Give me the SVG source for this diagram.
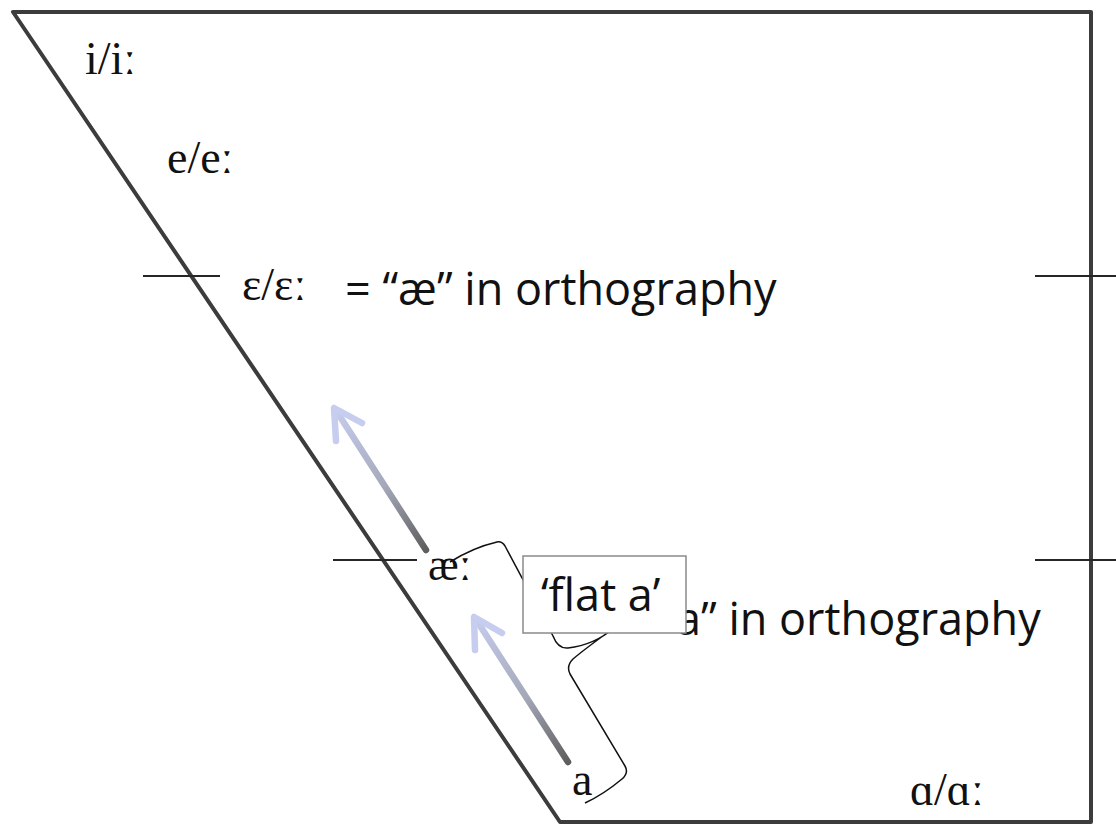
<svg xmlns="http://www.w3.org/2000/svg" width="1116" height="825" viewBox="0 0 1116 825">
<style>
.frame{fill:none;stroke:#3c3c3c;stroke-width:4;stroke-linejoin:round}
.tick{stroke:#262626;stroke-width:2.2}
.ipa{font-family:"Liberation Serif","DejaVu Serif",serif;font-size:46px;fill:#111}
.sans{font-family:"Open Sans","Noto Sans",sans-serif;font-size:45px;fill:#111}
.brace{fill:none;stroke:#111;stroke-width:1.5;stroke-linejoin:round}
.head{fill:none;stroke:#c6cdee;stroke-width:6.5;stroke-linecap:round;stroke-linejoin:round}
</style>
<defs>
<linearGradient id="g1" gradientUnits="userSpaceOnUse" x1="426" y1="550" x2="335" y2="410">
<stop offset="0" stop-color="#5e5e5e"/><stop offset="0.45" stop-color="#a4a8b8"/><stop offset="1" stop-color="#c6cdee"/>
</linearGradient>
<linearGradient id="g2" gradientUnits="userSpaceOnUse" x1="568" y1="762" x2="475" y2="618">
<stop offset="0" stop-color="#5e5e5e"/><stop offset="0.45" stop-color="#a4a8b8"/><stop offset="1" stop-color="#c6cdee"/>
</linearGradient>
</defs>
<g id="chart">
<path class="frame" d="M13,12 L1091,12 L1091,822 L560,822 Z"/>
<line class="tick" x1="143" y1="276" x2="220" y2="276"/>
<line class="tick" x1="1035" y1="276" x2="1116" y2="276"/>
<line class="tick" x1="333" y1="560" x2="417" y2="560"/>
<line class="tick" x1="1035" y1="560" x2="1116" y2="560"/>
</g>
<g id="vowels">
<text class="ipa" x="85" y="74">i/iː</text>
<text class="ipa" x="167" y="173">e/eː</text>
<text class="ipa" x="242" y="300">ɛ/ɛː</text>
<text class="ipa" x="428" y="580">æː</text>
<text class="ipa" x="572" y="795">a</text>
<text class="ipa" x="910" y="805">ɑ/ɑː</text>
</g>
<g id="notes">
<text class="sans" x="345" y="305">= “æ” in orthography</text>
<text class="sans" x="676" y="635">a” in orthography</text>
</g>
<g id="connectors">
<line x1="426" y1="550" x2="337" y2="412" stroke="url(#g1)" stroke-width="6.5" stroke-linecap="round"/>
<polyline class="head" points="362,423 334,408 336,441"/>
<line x1="568" y1="762" x2="477" y2="621" stroke="url(#g2)" stroke-width="6.5" stroke-linecap="round"/>
<polyline class="head" points="502,633 474,617 475,650"/>
<path class="brace" d="M450,562 C466,552 484,545 497,542 Q502,541 505,546 L553,636 Q558,649 568,648 C585,646 600,640 614,628 C600,638 586,648 573,659 Q566,666 570,674 L625,766 Q629,773 622,779 C610,789 598,797 585,803"/>
</g>
<g id="flat-a">
<rect x="523" y="556" width="163" height="77" fill="#fff" stroke="#8a8a8a" stroke-width="1.5"/>
<text class="sans" x="541" y="611">‘flat a’</text>
</g>
</svg>
